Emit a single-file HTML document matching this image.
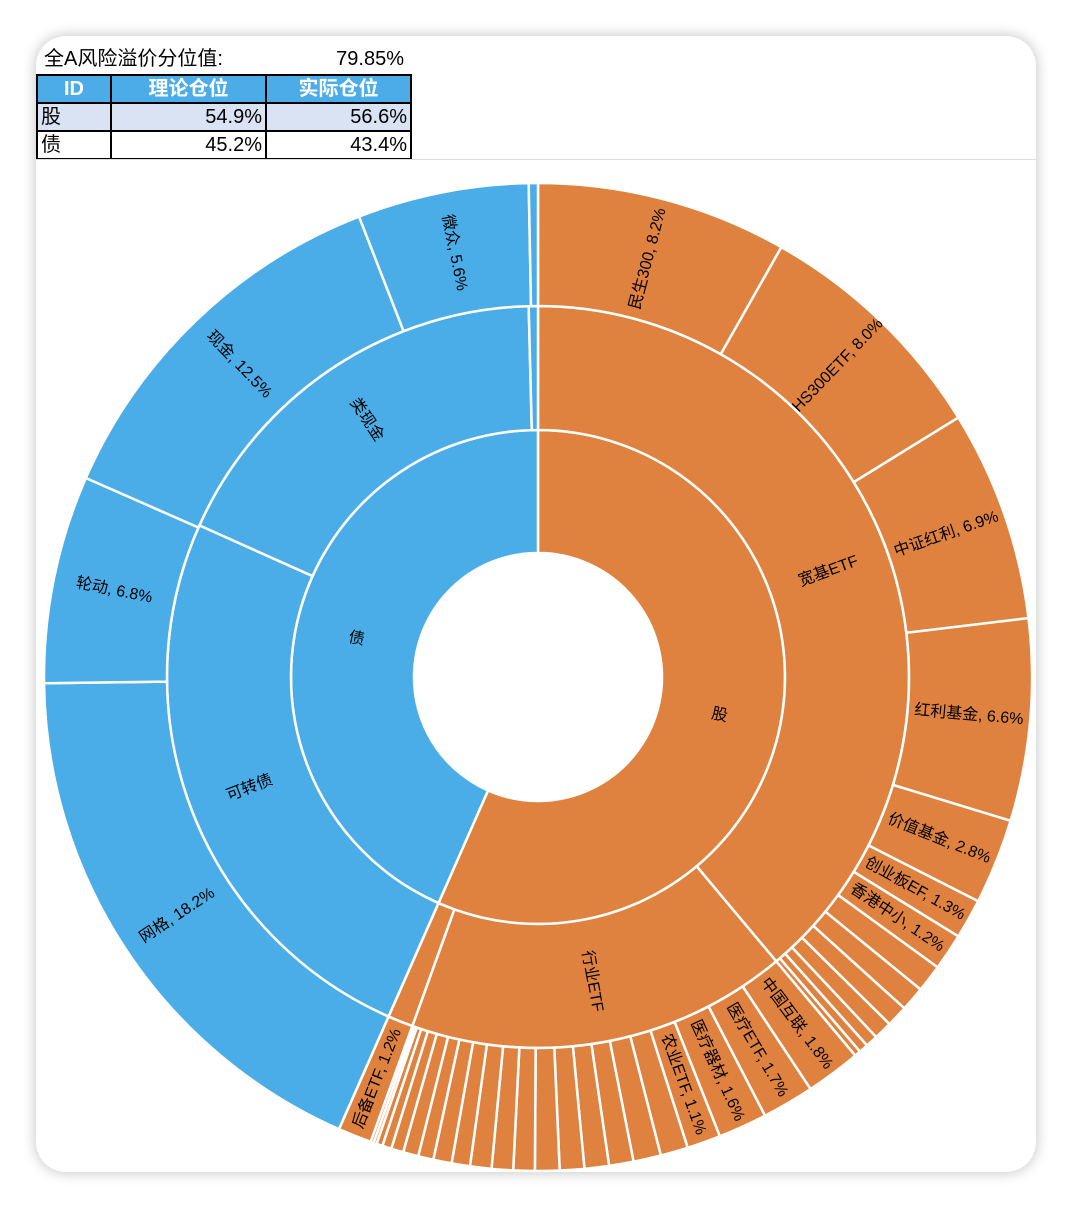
<!DOCTYPE html>
<html><head><meta charset="utf-8"><style>
body{margin:0;background:#fff;width:1072px;height:1208px;position:relative;font-family:"Liberation Sans","Noto Sans CJK SC",sans-serif;}
.card{position:absolute;left:36px;top:36px;width:1000px;height:1136px;background:#fff;border-radius:30px;box-shadow:0 0 14px rgba(0,0,0,0.25);overflow:hidden;}
.t{position:absolute;font-size:20px;color:#000;line-height:24px;}
table{position:absolute;left:0;top:38px;border-collapse:collapse;font-size:20px;table-layout:fixed;width:374px;}
td{border:2px solid #000;height:26px;padding:0 3px;line-height:26px;box-sizing:border-box;overflow:hidden;white-space:nowrap;}
tr{height:28px;}
.h td{background:#4BACE8;color:#fff;font-weight:bold;text-align:center;}
svg{position:absolute;left:0;top:0;}
</style></head><body>
<div class="card">
<div class="t" style="left:8px;top:11px">全A风险溢价分位值:</div>
<div class="t" style="left:260px;width:108px;text-align:right;top:11px">79.85%</div>
<table>
<colgroup><col style="width:74px"><col style="width:155px"><col style="width:145px"></colgroup>
<tr class="h"><td>ID</td><td>理论仓位</td><td>实际仓位</td></tr>
<tr style="background:#DAE3F3"><td>股</td><td style="text-align:right">54.9%</td><td style="text-align:right">56.6%</td></tr>
<tr><td>债</td><td style="text-align:right">45.2%</td><td style="text-align:right">43.4%</td></tr>
</table>
<div style="position:absolute;left:0;right:0;top:123px;height:1px;background:#ddd"></div>
</div>
<svg id="s" width="1072" height="1208" font-family="Liberation Sans, Noto Sans CJK SC, sans-serif" font-size="16"></svg>
<script>
var cx=538,cy=677,O="#E0823F",B="#4BADE8";
var R=[[124,247],[247,371],[371,494]];
var ring1=[["股",56.6,O],["债",43.4,B]];
var ring2=[["宽基ETF",38.9,O],["行业ETF",16.6,O],["",1.1,O],["可转债",25.1,B],["类现金",17.9,B],["",0.4,B]];
var r3=[["民生300, 8.2%",8.2],["HS300ETF, 8.0%",8.0],["中证红利, 6.9%",6.9],["红利基金, 6.6%",6.6],["价值基金, 2.8%",2.8],["创业板EF, 1.3%",1.3],["香港中小, 1.2%",1.2]];
[0.9,0.8,0.7,0.6,0.4,0.3,0.2].forEach(v=>r3.push(["",v]));
r3.push(["中国互联, 1.8%",1.8],["医疗ETF, 1.7%",1.7],["医疗器材, 1.6%",1.6],["农业ETF, 1.1%",1.1]);
[0.9,0.9,0.8,0.8,0.8,0.8,0.7,0.7,0.7,0.6,0.6,0.5,0.5,0.4,0.3,0.2,0.1,0.1].forEach(v=>r3.push(["",v]));
r3.push(["后备ETF, 1.2%",1.1]);
var ring3=r3.map(a=>[a[0],a[1],O]);
ring3.push(["网格, 18.2%",18.2,B],["轮动, 6.8%",6.8,B],["现金, 12.5%",12.5,B],["微众, 5.6%",5.6,B],["",0.3,B]);
var s="";
function pt(r,p){var a=p/100*2*Math.PI;return [cx+r*Math.sin(a),cy-r*Math.cos(a)];}
function draw(ring,rr){var tot=ring.reduce((a,b)=>a+b[1],0),st=0;
ring.forEach(d=>{var a0=st*100/tot,a1=(st+d[1])*100/tot;st+=d[1];
var p1=pt(rr[0],a0),p2=pt(rr[1],a0),p3=pt(rr[1],a1),p4=pt(rr[0],a1),lg=(a1-a0)>50?1:0;
s+='<path d="M'+p1+'L'+p2+'A'+rr[1]+','+rr[1]+' 0 '+lg+' 1 '+p3+'L'+p4+'A'+rr[0]+','+rr[0]+' 0 '+lg+' 0 '+p1+'Z" fill="'+d[2]+'" stroke="#fff" stroke-width="2.5"/>';
if(d[0]){var m=(a0+a1)/2,th=m*3.6,rot=th<180?th-90:th-270,rm=(rr[0]+rr[1])/2,c=pt(rm,m);
s+='<text x="'+c[0]+'" y="'+c[1]+'" text-anchor="middle" dominant-baseline="central" transform="rotate('+rot+' '+c[0]+' '+c[1]+')">'+d[0]+'</text>';}
});}
draw(ring1,R[0]);draw(ring2,R[1]);draw(ring3,R[2]);
document.getElementById("s").innerHTML=s;
</script>
</body></html>
